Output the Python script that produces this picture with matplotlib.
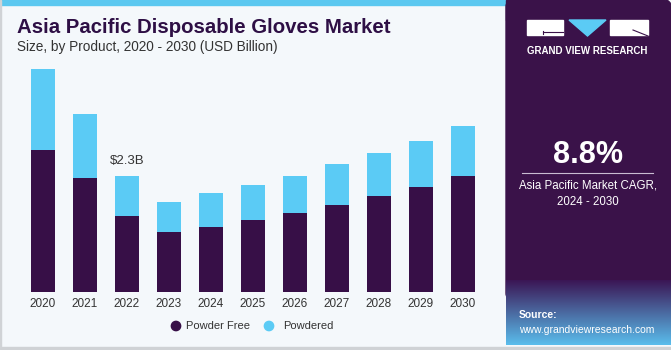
import numpy as np
import matplotlib.pyplot as plt
from matplotlib.patches import Rectangle, Polygon, FancyBboxPatch

# data (USD billion)
years = ['2020', '2021', '2022', '2023', '2024', '2025', '2026', '2027', '2028', '2029', '2030']
powder_free = [2.82, 2.27, 1.51, 1.20, 1.29, 1.44, 1.58, 1.73, 1.90, 2.09, 2.31]
powdered = [1.61, 1.26, 0.79, 0.60, 0.67, 0.69, 0.73, 0.81, 0.86, 0.91, 0.98]
label_year = '2022'
label_text = '$2.3B'

DARK = '#370f47'
BLUE = '#5bcbf5'
PANEL = '#3a1249'
BG = '#f4f8fb'

plt.rcParams['font.family'] = ['Liberation Sans', 'DejaVu Sans']

fig = plt.figure(figsize=(6.71, 3.5), dpi=100)
W, H = 671, 350

# background layer in pixel coords (y down)
bg = fig.add_axes([0, 0, 1, 1])
bg.set_xlim(0, W)
bg.set_ylim(H, 0)
bg.axis('off')
bg.add_patch(Rectangle((0, 0), W, H, color=BG, zorder=0))
bg.add_patch(Rectangle((0, 0), 506, 5, color='#5bc8f0', zorder=1))
bg.add_patch(Rectangle((0, 346.5), W, 2, color='#cfd2d5', zorder=1))
bg.add_patch(Rectangle((0, 0), 1.2, 347, color='#d0d3d6', zorder=1))

# right panel with rounded top-right corner
bg.add_patch(FancyBboxPatch((506, 0), 165, 300, boxstyle='round,pad=0,rounding_size=7',
                            color=PANEL, zorder=1))
bg.add_patch(Rectangle((506, 0), 20, 20, color=PANEL, zorder=1))

# source area gradient
grad = np.linspace(0, 1, 100)[:, None]
top_c = np.array([0x3b, 0x16, 0x55]) / 255
bot_c = np.array([0x5a, 0xbd, 0xec]) / 255
img = top_c[None, None, :] * (1 - grad[:, :, None]) + bot_c[None, None, :] * grad[:, :, None]
img = np.repeat(img, 2, axis=1)
bg.imshow(img, extent=(506, 671, 345, 280), aspect='auto', zorder=2)

# logo
bg.add_patch(Rectangle((527, 20), 36, 15, color='white', zorder=3))
bg.add_patch(Polygon([(569, 20), (606, 20), (587.5, 36)], closed=True, color=BLUE, zorder=3))
bg.add_patch(Rectangle((610, 20), 38, 15, color='white', zorder=3))
bg.plot([543, 563], [31.5, 31.5], color=PANEL, lw=0.8, zorder=4)
bg.plot([543, 543], [30.5, 34], color=PANEL, lw=0.8, zorder=4)
bg.plot([633, 648], [30, 36], color=PANEL, lw=0.8, zorder=4)
bg.text(587.5, 51, 'GRAND VIEW RESEARCH', color='white', fontsize=7, fontweight='bold',
        ha='center', va='center', zorder=4)

# CAGR block
bg.text(588, 155, '8.8%', color='white', fontsize=22, fontweight='bold', ha='center', va='center', zorder=4)
bg.plot([522, 653], [173, 173], color='#c9bcd2', lw=0.8, zorder=4)
bg.text(588, 186, 'Asia Pacific Market CAGR,', color='white', fontsize=8.3, ha='center', va='center', zorder=4)
bg.text(588, 202, '2024 - 2030', color='white', fontsize=8.3, ha='center', va='center', zorder=4)

bg.text(519, 315, 'Source:', color='white', fontsize=7.5, fontweight='bold', ha='left', va='center', zorder=4)
bg.text(519, 330, 'www.grandviewresearch.com', color='white', fontsize=7.5, ha='left', va='center', zorder=4)

# titles
bg.text(17, 27.5, 'Asia Pacific Disposable Gloves Market', color='#2e0f45', fontsize=14.7,
        fontweight='bold', ha='left', va='center', zorder=4)
bg.text(17, 47, 'Size, by Product, 2020 - 2030 (USD Billion)', color='#333333', fontsize=9.8,
        ha='left', va='center', zorder=4)

# bar chart
x = np.arange(len(years))
ax = fig.add_axes([22 / W, 57.7 / H, 462 / W, 232 / H])
ax.patch.set_alpha(0)
ax.bar(x, powder_free, width=0.57, color=DARK, label='Powder Free')
ax.bar(x, powdered, width=0.57, bottom=powder_free, color=BLUE, label='Powdered')
ax.set_xlim(-0.5, len(years) - 0.5)
ax.set_ylim(0, 4.6)
ax.set_xticks(x)
ax.set_xticklabels(years, fontsize=8.5, color='#333333')
ax.tick_params(axis='x', length=0, pad=4)
ax.set_yticks([])
for s in ax.spines.values():
    s.set_visible(False)

i = years.index(label_year)
ax.text(x[i], powder_free[i] + powdered[i] + 0.18, label_text, ha='center', va='bottom',
        fontsize=9.5, color='#333333')

# legend drawn as dots + text
bg.scatter([176, 269], [326, 326], s=45, color=[DARK, BLUE], zorder=4)
bg.text(186, 326, 'Powder Free', fontsize=8, color='#333333', va='center', zorder=4)
bg.text(283, 326, 'Powdered', fontsize=8, color='#333333', va='center', zorder=4)

fig.savefig('out.png', dpi=100)
